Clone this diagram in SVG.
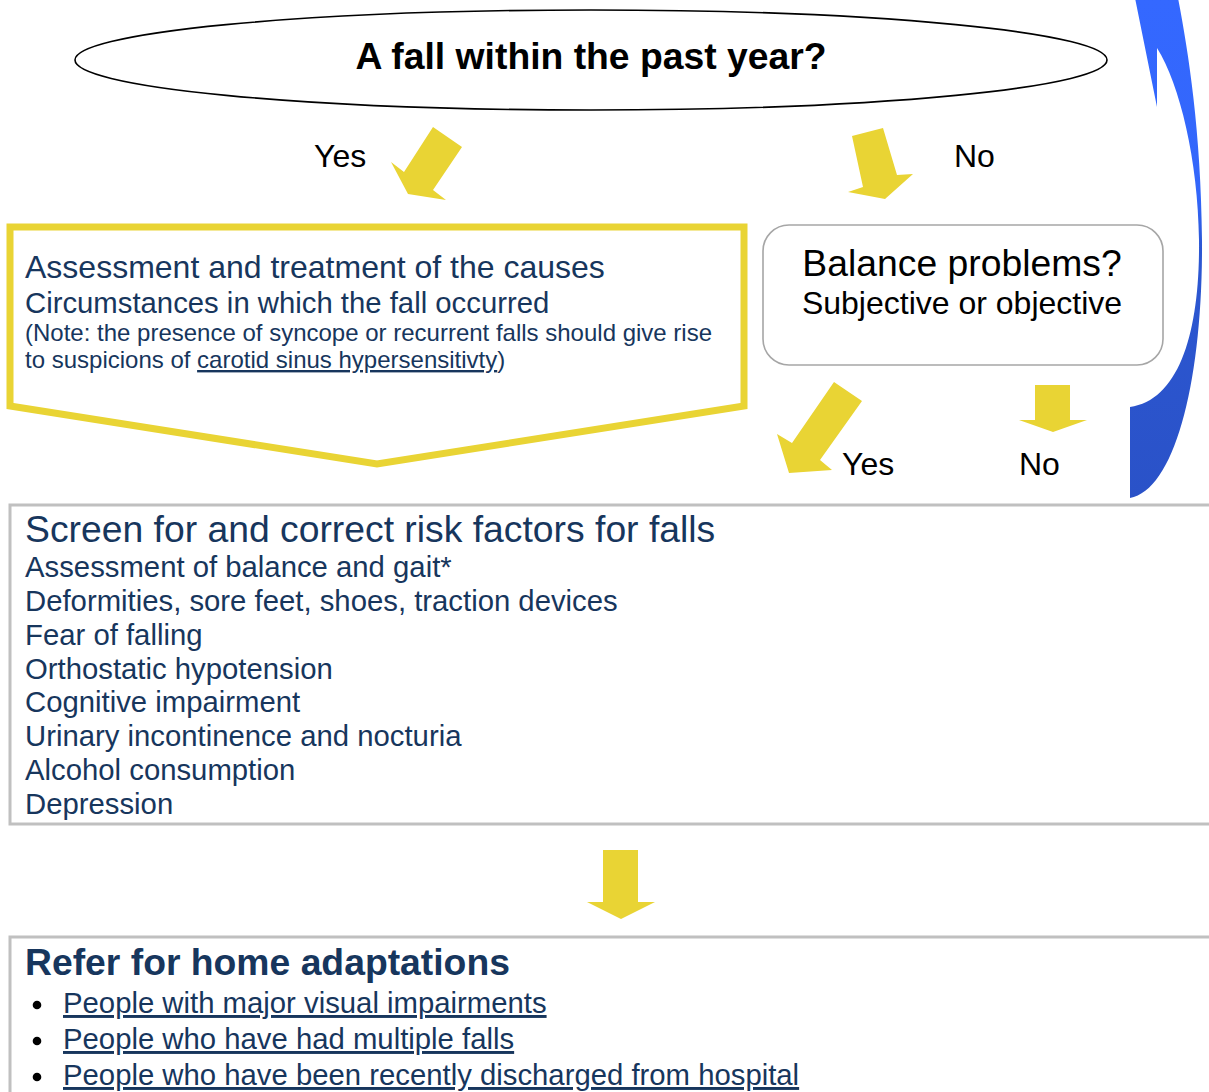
<svg xmlns="http://www.w3.org/2000/svg" width="1209" height="1092" viewBox="0 0 1209 1092">
<defs>
<linearGradient id="blueGrad" x1="0" y1="0" x2="0" y2="1">
<stop offset="0" stop-color="#3468FF"/>
<stop offset="0.4" stop-color="#3366FA"/>
<stop offset="0.5" stop-color="#2C57D2"/>
<stop offset="1" stop-color="#2A52C8"/>
</linearGradient>
</defs>
<style>
text{font-family:"Liberation Sans",Arial,sans-serif}
.blk{fill:#000}
.nav{fill:#17365D}
.ttl{font-weight:bold;font-size:37.3px}
.lbl{font-size:32px}
.big{font-size:37.3px}
.mid{font-size:32px}
.itm{font-size:29.3px}
.note{font-size:24px}
.arr{fill:#E9D434;stroke:none}
.gbox{fill:none;stroke:#C0C0C0;stroke-width:3}
</style>
<rect width="1209" height="1092" fill="#fff"/>

<g id="connectors">
<polygon class="arr" points="433,127 462,147 433,190 446,200 408,194 391,162 404,172"/>
<polygon class="arr" points="852,136 883,128 897,175 913,174 885,199 848,192 863,187"/>
<polygon class="arr" points="834,382 862,401 820,460 832,470 789,473 777,434 792,443"/>
<polygon class="arr" points="1035,385 1070,385 1070,420 1087,420 1053,432 1019,420 1035,420"/>
<polygon class="arr" points="603,850 638,850 638,902 655,902 621,919 587,902 603,902"/>
<path id="loop-arrow" d="M1135,-2 L1157,107 L1157,48 C1180,85 1198,160 1199,240 C1200,330 1180,400 1130,407 L1130,498 C1175,490 1203,380 1202,240 C1201,130 1188,50 1178,-2 Z" fill="url(#blueGrad)"/>
<text class="blk lbl" x="314" y="167">Yes</text>
<text class="blk lbl" x="954" y="167">No</text>
<text class="blk lbl" x="842" y="475">Yes</text>
<text class="blk lbl" x="1019" y="475">No</text>
</g>

<g id="start">
<ellipse cx="591" cy="60" rx="516" ry="50" fill="#fff" stroke="#000" stroke-width="1.6"/>
<text class="blk ttl" x="591" y="69" text-anchor="middle">A fall within the past year?</text>
</g>

<g id="assessment">
<polygon points="10,227 744,227 744,406 377,464 10,406" fill="#fff" stroke="#E9D434" stroke-width="7"/>
<text class="nav mid" x="25" y="278">Assessment and treatment of the causes</text>
<text class="nav itm" x="25" y="313">Circumstances in which the fall occurred</text>
<text class="nav note" x="25" y="341">(Note: the presence of syncope or recurrent falls should give rise</text>
<text class="nav note" x="25" y="368">to suspicions of <tspan text-decoration="underline">carotid sinus hypersensitivty</tspan>)</text>
</g>

<g id="balance">
<rect x="763" y="225" width="400" height="140" rx="26" fill="#fff" stroke="#A6A6A6" stroke-width="1.6"/>
<text class="blk big" x="962" y="276" text-anchor="middle">Balance problems?</text>
<text class="blk lbl" x="962" y="314" text-anchor="middle">Subjective or objective</text>
</g>

<g id="screen">
<rect class="gbox" x="10" y="505" width="1210" height="319"/>
<text class="nav big" x="25" y="542">Screen for and correct risk factors for falls</text>
<text class="nav itm" x="25" y="577">Assessment of balance and gait*</text>
<text class="nav itm" x="25" y="611">Deformities, sore feet, shoes, traction devices</text>
<text class="nav itm" x="25" y="645">Fear of falling</text>
<text class="nav itm" x="25" y="679">Orthostatic hypotension</text>
<text class="nav itm" x="25" y="712">Cognitive impairment</text>
<text class="nav itm" x="25" y="746">Urinary incontinence and nocturia</text>
<text class="nav itm" x="25" y="780">Alcohol consumption</text>
<text class="nav itm" x="25" y="814">Depression</text>
</g>

<g id="refer">
<rect class="gbox" x="10" y="937" width="1210" height="170"/>
<text class="nav ttl" x="25" y="975">Refer for home adaptations</text>
<circle cx="37" cy="1005" r="4.3" fill="#000"/>
<circle cx="37" cy="1041" r="4.3" fill="#000"/>
<circle cx="37" cy="1077" r="4.3" fill="#000"/>
<text class="nav itm" x="63" y="1013" text-decoration="underline">People with major visual impairments</text>
<text class="nav itm" x="63" y="1049" text-decoration="underline">People who have had multiple falls</text>
<text class="nav itm" x="63" y="1085" text-decoration="underline">People who have been recently discharged from hospital</text>
</g>
</svg>
